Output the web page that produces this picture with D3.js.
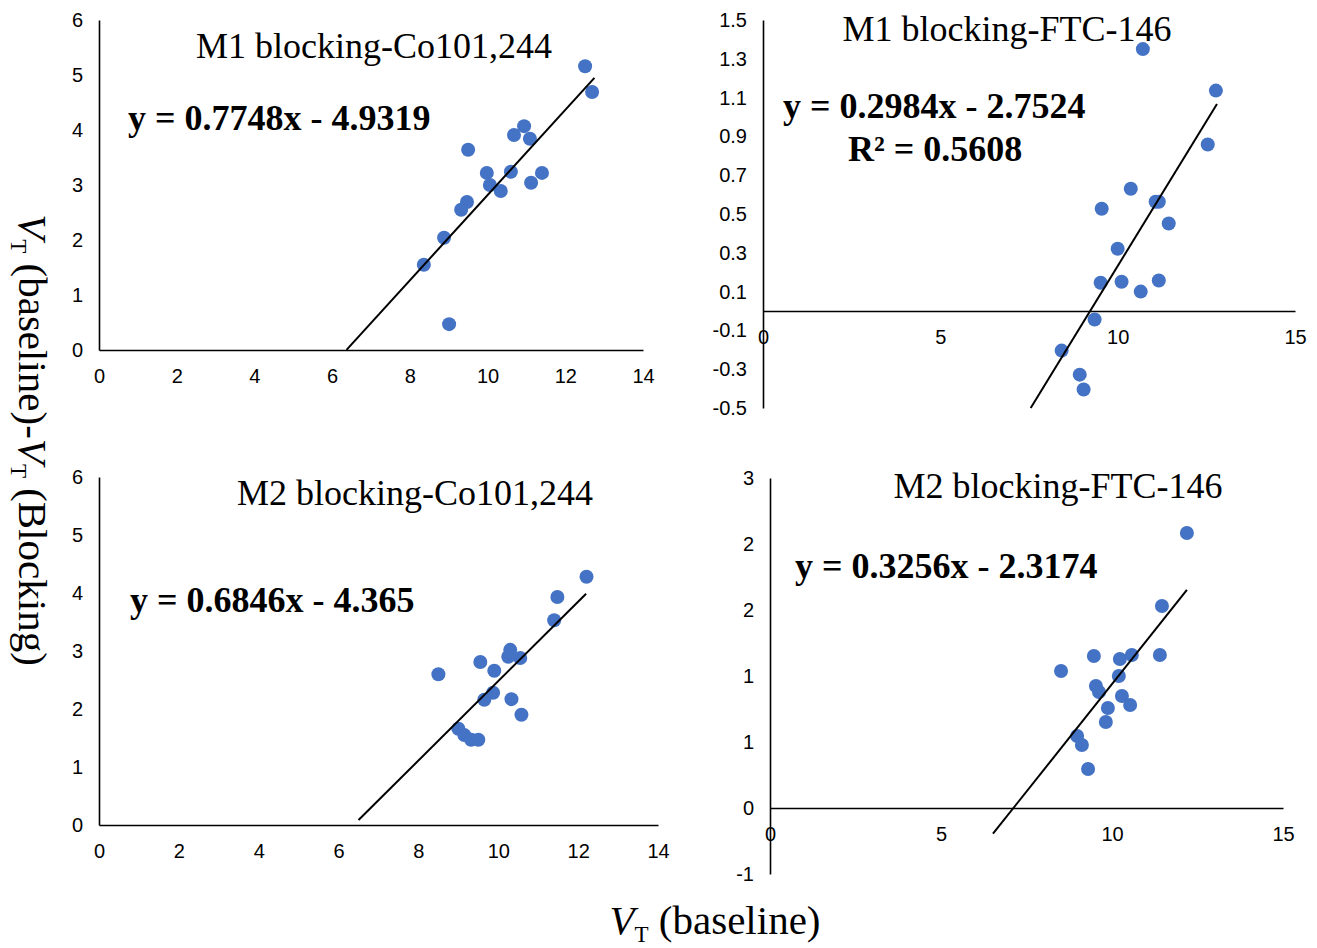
<!DOCTYPE html>
<html>
<head>
<meta charset="utf-8">
<script src="https://cdn.jsdelivr.net/npm/d3@7"></script>
<style>
  body { margin: 0; background: #fff; }
  .tick text { font-family: "Liberation Sans", Arial, sans-serif; font-size: 20px; fill: #000; }
  .domain { stroke: #000; stroke-width: 1.6; }
  .title { font-family: "Liberation Serif", "Times New Roman", serif; font-size: 36px; fill: #000; }
  .eq { font-family: "Liberation Serif", "Times New Roman", serif; font-size: 36px; font-weight: bold; fill: #000; }
  .axislabel { font-family: "Liberation Serif", "Times New Roman", serif; font-size: 41px; fill: #000; }
</style>
</head>
<body>
<div id="vis"></div>
<script>
// ---- data ----
// M1 blocking - Co101,244
var m1CoX = [12.51, 12.69, 10.94, 10.68, 11.09, 9.50, 9.98, 10.60, 11.40, 10.06, 11.12, 10.34, 9.47, 9.32, 8.88, 8.36, 9.01];
var m1CoY = [5.16, 4.69, 4.07, 3.91, 3.84, 3.64, 3.22, 3.24, 3.22, 3.00, 3.04, 2.89, 2.69, 2.55, 2.04, 1.55, 0.47];
var m1CoFit = [0.7748, -4.9319];
var m1CoFitRange = [6.37, 12.75];

// M1 blocking - FTC-146
var m1FtcX = [10.71, 12.77, 12.54, 10.37, 11.07, 11.16, 9.55, 11.44, 10.00, 9.52, 10.11, 11.16, 10.65, 9.35, 8.42, 8.93, 9.04];
var m1FtcY = [1.35, 1.136, 0.858, 0.630, 0.563, 0.563, 0.527, 0.451, 0.321, 0.146, 0.151, 0.157, 0.100, -0.044, -0.204, -0.328, -0.405];
var m1FtcFit = [0.2984, -2.7524];
var m1FtcFitRange = [7.548, 12.8];

// M2 blocking - Co101,244
var m2CoX = [12.21, 11.48, 11.40, 8.50, 9.55, 9.90, 10.30, 10.25, 10.55, 9.87, 9.65, 10.33, 10.58, 9.00, 9.15, 9.32, 9.50];
var m2CoY = [4.28, 3.93, 3.53, 2.60, 2.81, 2.66, 3.02, 2.90, 2.88, 2.28, 2.16, 2.17, 1.90, 1.66, 1.55, 1.47, 1.47];
var m2CoFit = [0.6846, -4.365];
var m2CoFitRange = [6.5, 12.2];

// M2 blocking - FTC-146
var m2FtcX = [12.19, 11.46, 11.40, 9.47, 10.23, 10.58, 10.20, 8.51, 9.53, 9.62, 10.29, 10.53, 9.88, 9.82, 8.98, 9.12, 9.30];
var m2FtcY = [2.083, 1.530, 1.159, 1.152, 1.129, 1.159, 1.000, 1.038, 0.924, 0.879, 0.848, 0.780, 0.758, 0.652, 0.545, 0.477, 0.295];
var m2FtcFit = [0.3256, -2.3174];
var m2FtcFitRange = [6.52, 12.19];

// axis ticks
var xTicksCo = [0, 2, 4, 6, 8, 10, 12, 14];
var yTicksCo = [0, 1, 2, 3, 4, 5, 6];
var xTicksFtc = [0, 5, 10, 15];
var yTicksM1Ftc = [1.5, 1.3, 1.1, 0.9, 0.7, 0.5, 0.3, 0.1, -0.1, -0.3, -0.5];
var yTicksM1FtcLabels = ['1.5', '1.3', '1.1', '0.9', '0.7', '0.5', '0.3', '0.1', '-0.1', '-0.3', '-0.5'];
// the original prints these rounded to whole numbers
var yTicksM2Ftc = [2.5, 2, 1.5, 1, 0.5, 0, -0.5];
var yTicksM2FtcLabels = ['3', '2', '2', '1', '1', '0', '-1'];

var titles = ['M1 blocking-Co101,244', 'M1 blocking-FTC-146', 'M2 blocking-Co101,244', 'M2 blocking-FTC-146'];
var equations = ['y = 0.7748x - 4.9319', 'y = 0.2984x - 2.7524', 'y = 0.6846x - 4.365', 'y = 0.3256x - 2.3174'];
var r2Labels = [null, 'R\u00B2 = 0.5608', null, null];

// ---- layout ----
var width = 1317;
var height = 948;
var dotColor = '#4472c4';

var svg = d3.select('#vis').append('svg')
  .attr('width', width)
  .attr('height', height);

svg.append('rect').attr('width', width).attr('height', height).attr('fill', '#fff');

var panels = [
  { xs: m1CoX, ys: m1CoY, fit: m1CoFit, fitRange: m1CoFitRange,
    xDomain: [0, 14], yDomain: [0, 6], xTicks: xTicksCo, yTicks: yTicksCo, yLabels: null,
    box: { left: 99, right: 643, top: 20, bottom: 350 },
    titleAt: [374, 58], eqAt: [128, 130], r2At: null },
  { xs: m1FtcX, ys: m1FtcY, fit: m1FtcFit, fitRange: m1FtcFitRange,
    xDomain: [0, 15], yDomain: [-0.5, 1.5], xTicks: xTicksFtc, yTicks: yTicksM1Ftc, yLabels: yTicksM1FtcLabels,
    box: { left: 763, right: 1295, top: 20, bottom: 408 },
    titleAt: [1007, 41], eqAt: [783, 118], r2At: [848, 161] },
  { xs: m2CoX, ys: m2CoY, fit: m2CoFit, fitRange: m2CoFitRange,
    xDomain: [0, 14], yDomain: [0, 6], xTicks: xTicksCo, yTicks: yTicksCo, yLabels: null,
    box: { left: 99, right: 658, top: 477, bottom: 825 },
    titleAt: [415, 505], eqAt: [130, 612], r2At: null },
  { xs: m2FtcX, ys: m2FtcY, fit: m2FtcFit, fitRange: m2FtcFitRange,
    xDomain: [0, 15], yDomain: [-0.5, 2.5], xTicks: xTicksFtc, yTicks: yTicksM2Ftc, yLabels: yTicksM2FtcLabels,
    box: { left: 770, right: 1283, top: 478, bottom: 874 },
    titleAt: [1058, 498], eqAt: [795, 578], r2At: null }
];

panels.forEach(function (p, i) {
  var x = d3.scaleLinear().domain(p.xDomain).range([p.box.left, p.box.right]);
  var y = d3.scaleLinear().domain(p.yDomain).range([p.box.bottom, p.box.top]);
  var g = svg.append('g');

  // y axis (no tick marks, just the line and labels)
  var yAxis = d3.axisLeft(y)
    .tickValues(p.yTicks)
    .tickSize(0)
    .tickSizeOuter(0)
    .tickPadding(16);
  if (p.yLabels) {
    yAxis.tickFormat(function (d, k) { return p.yLabels[k]; });
  } else {
    yAxis.tickFormat(d3.format('d'));
  }
  g.append('g')
    .attr('transform', 'translate(' + x(0) + ',0)')
    .call(yAxis);

  // x axis sits on y = 0
  var xAxis = d3.axisBottom(x)
    .tickValues(p.xTicks)
    .tickSize(0)
    .tickSizeOuter(0)
    .tickPadding(19)
    .tickFormat(d3.format('d'));
  g.append('g')
    .attr('transform', 'translate(0,' + y(0) + ')')
    .call(xAxis);

  g.selectAll('.tick text').attr('fill', '#000');

  // dots
  var pts = p.xs.map(function (v, k) { return { x: v, y: p.ys[k] }; });
  g.selectAll('circle.dot')
    .data(pts)
    .enter().append('circle')
    .attr('class', 'dot')
    .attr('cx', function (d) { return x(d.x); })
    .attr('cy', function (d) { return y(d.y); })
    .attr('r', 7)
    .attr('fill', dotColor);

  // linear trendline
  var line = d3.line()
    .x(function (d) { return x(d); })
    .y(function (d) { return y(p.fit[0] * d + p.fit[1]); });
  g.append('path')
    .datum(p.fitRange)
    .attr('d', line)
    .attr('fill', 'none')
    .attr('stroke', '#000')
    .attr('stroke-width', 2);

  // title and equation
  g.append('text')
    .attr('class', 'title')
    .attr('x', p.titleAt[0])
    .attr('y', p.titleAt[1])
    .attr('text-anchor', 'middle')
    .text(titles[i]);

  g.append('text')
    .attr('class', 'eq')
    .attr('x', p.eqAt[0])
    .attr('y', p.eqAt[1])
    .text(equations[i]);

  if (p.r2At) {
    g.append('text')
      .attr('class', 'eq')
      .attr('x', p.r2At[0])
      .attr('y', p.r2At[1])
      .text(r2Labels[i]);
  }
});

// shared axis titles: V_T with italic V and upright subscript T
function vtLabel(textSel, parts) {
  parts.forEach(function (part) {
    var t = textSel.append('tspan').text(part.text);
    if (part.italic) t.attr('font-style', 'italic');
    if (part.sub) t.attr('font-size', '23px').attr('dy', 8);
    if (part.after) t.attr('dy', -8);
  });
}

var yTitle = svg.append('text')
  .attr('class', 'axislabel')
  .attr('text-anchor', 'middle')
  .attr('transform', 'translate(19,440) rotate(90)');
vtLabel(yTitle, [
  { text: 'V', italic: true },
  { text: 'T', sub: true },
  { text: ' (baseline)-', after: true },
  { text: 'V', italic: true },
  { text: 'T', sub: true },
  { text: ' (Blocking)', after: true }
]);

var xTitle = svg.append('text')
  .attr('class', 'axislabel')
  .attr('text-anchor', 'middle')
  .attr('x', 715)
  .attr('y', 934);
vtLabel(xTitle, [
  { text: 'V', italic: true },
  { text: 'T', sub: true },
  { text: ' (baseline)', after: true }
]);
</script>
</body>
</html>
